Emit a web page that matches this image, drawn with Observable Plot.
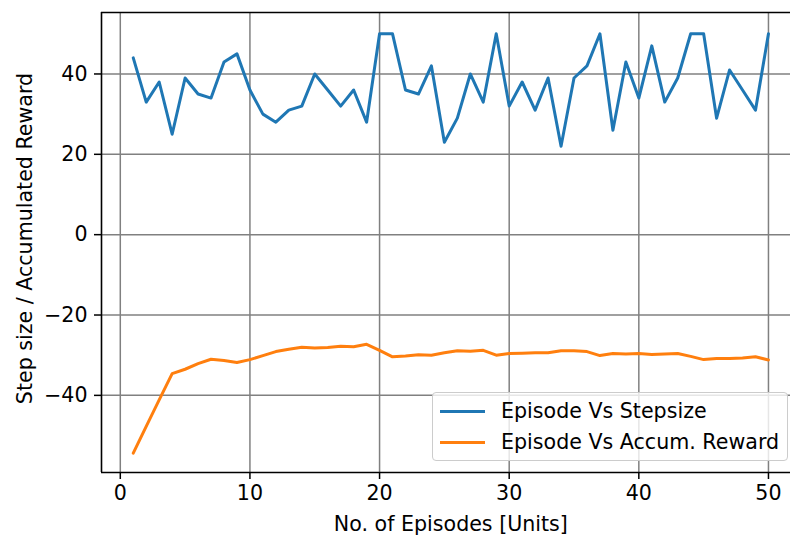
<!DOCTYPE html>
<html>
<head>
<meta charset="utf-8">
<script src="https://cdn.jsdelivr.net/npm/d3@7"></script>
<script src="https://cdn.jsdelivr.net/npm/@observablehq/plot@0.6"></script>
<style>
  html, body { margin: 0; padding: 0; background: #fff; }
  #wrap { position: relative; width: 790px; height: 538px; font-family: "DejaVu Sans", sans-serif; }
  #legend { position: absolute; left: 432px; top: 392px; width: 356px; height: 69px;
    border: 1px solid #cccccc; border-radius: 4px; background: rgba(255,255,255,0.8);
    font-size: 20.6px; color: #000; box-sizing: border-box; }
  .row { position: absolute; left: 0; height: 24px; display: flex; align-items: center; white-space: nowrap; }
  .swatch { display: inline-block; width: 45px; height: 3px; margin-left: 7px; margin-right: 16px; }
</style>
</head>
<body>
<div id="wrap"></div>
<script>
const episodes = [1,2,3,4,5,6,7,8,9,10,11,12,13,14,15,16,17,18,19,20,21,22,23,24,25,26,27,28,29,30,31,32,33,34,35,36,37,38,39,40,41,42,43,44,45,46,47,48,49,50];
const stepsize = [44,33,38,25,39,35,34,43,45,36,
                  30,28,31,32,40,36,32,36,28,50,
                  50,36,35,42,23,29,40,33,50,32,
                  38,31,39,22,39,42,50,26,43,34,
                  47,33,39,50,50,29,41,36,31,50];
const reward = [-54.4,-47.7,-41.1,-34.6,-33.5,-32.1,-31.0,-31.3,-31.8,-31.1,
                -30.1,-29.1,-28.5,-28.0,-28.2,-28.1,-27.8,-27.9,-27.3,-28.8,
                -30.4,-30.2,-29.9,-30.0,-29.4,-28.9,-29.0,-28.8,-30.0,-29.6,
                -29.5,-29.4,-29.4,-28.9,-28.9,-29.1,-30.1,-29.6,-29.7,-29.6,
                -29.8,-29.7,-29.6,-30.3,-31.1,-30.8,-30.8,-30.7,-30.4,-31.2];
const xTicks = [0,10,20,30,40,50];
const yTicks = [-40,-20,0,20,40];
const seriesNames = ["Episode Vs Stepsize", "Episode Vs Accum. Reward"];
const seriesColors = ["#1f77b4", "#ff7f0e"];
const xLabel = "No. of Episodes [Units]";
const yLabel = "Step size / Accumulated Reward";

const xDomain = [-1.45, 51.70];
const yDomain = [-59.2, 55.3];

const stepData = episodes.map((e, i) => ({x: e, y: stepsize[i]}));
const rewardData = episodes.map((e, i) => ({x: e, y: reward[i]}));

const FS = 20.6;

const chart = Plot.plot({
  width: 790,
  height: 538,
  marginLeft: 101,
  marginRight: 0,
  marginTop: 12,
  marginBottom: 66,
  style: {fontFamily: "DejaVu Sans, sans-serif", fontSize: FS + "px", color: "#000", background: "#fff"},
  x: {domain: xDomain},
  y: {domain: yDomain},
  marks: [
    Plot.gridX(xTicks, {stroke: "#808080", strokeOpacity: 1, strokeWidth: 1.5}),
    Plot.gridY(yTicks, {stroke: "#808080", strokeOpacity: 1, strokeWidth: 1.5}),
    Plot.axisX(xTicks, {tickSize: 7, tickPadding: 6, fontSize: FS, label: null, strokeWidth: 1.5}),
    Plot.axisY(yTicks, {tickSize: 7, tickPadding: 7, fontSize: FS, label: null, strokeWidth: 1.5}),
    Plot.line(stepData, {x: "x", y: "y", stroke: seriesColors[0], strokeWidth: 3}),
    Plot.line(rewardData, {x: "x", y: "y", stroke: seriesColors[1], strokeWidth: 3}),
    Plot.ruleX([xDomain[0]], {stroke: "#000", strokeWidth: 1.6}),
    Plot.ruleY([yDomain[0], yDomain[1]], {stroke: "#000", strokeWidth: 1.6}),
    Plot.text([xLabel], {x: 25.5, frameAnchor: "bottom", dy: 52, text: d => d, fontSize: FS, lineAnchor: "middle", textAnchor: "middle", fill: "#000"}),
    Plot.text([yLabel], {y: (yDomain[0] + yDomain[1]) / 2, frameAnchor: "left", dx: -76, dy: -4, rotate: -90, text: d => d, fontSize: FS, lineAnchor: "middle", textAnchor: "middle", fill: "#000"})
  ]
});

const wrap = document.getElementById("wrap");
wrap.appendChild(chart);

const legend = document.createElement("div");
legend.id = "legend";
seriesNames.forEach((name, i) => {
  const row = document.createElement("div");
  row.className = "row";
  row.style.top = (6 + i * 31) + "px";
  const sw = document.createElement("span");
  sw.className = "swatch";
  sw.style.background = seriesColors[i];
  const tx = document.createElement("span");
  tx.textContent = name;
  row.appendChild(sw);
  row.appendChild(tx);
  legend.appendChild(row);
});
wrap.appendChild(legend);
</script>
</body>
</html>
